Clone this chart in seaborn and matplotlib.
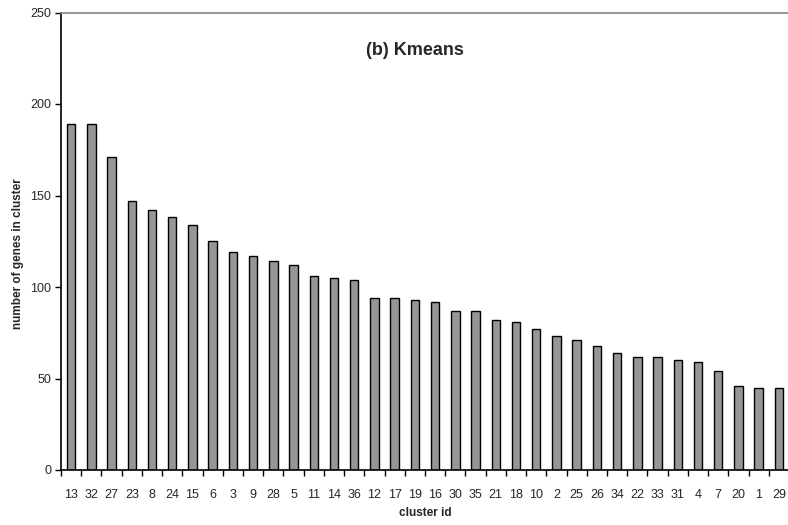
import matplotlib
matplotlib.use("Agg")
import matplotlib.pyplot as plt
import seaborn as sns
import pandas as pd
import numpy as np

cluster_ids = ["13", "32", "27", "23", "8", "24", "15", "6", "3", "9", "28", "5",
               "11", "14", "36", "12", "17", "19", "16", "30", "35", "21", "18", "10",
               "2", "25", "26", "34", "22", "33", "31", "4", "7", "20", "1", "29"]
gene_counts = [189, 189, 171, 147, 142, 138, 134, 125, 119, 117, 114, 112,
               106, 105, 104, 94, 94, 93, 92, 87, 87, 82, 81, 77,
               73, 71, 68, 64, 62, 62, 60, 59, 54, 46, 45, 45]
y_ticks = [0, 50, 100, 150, 200, 250]

sns.set_style("white")
plt.rcParams['font.family'] = ['Liberation Sans', 'DejaVu Sans']

df = pd.DataFrame({"cluster": cluster_ids, "count": gene_counts})

fig = plt.figure(figsize=(7.88, 5.25), dpi=100)
ax = fig.add_axes([61/788, 55/525, 728/788, 457.5/525])

sns.barplot(data=df, x="cluster", y="count", order=cluster_ids, color="#969696",
            saturation=1, width=0.42, edgecolor="black", linewidth=1.0, ax=ax)

ax.set_xlim(-0.5, len(cluster_ids) - 0.5)
ax.set_ylim(0, 250)
ax.set_yticks(y_ticks)
ax.set_yticklabels([str(t) for t in y_ticks], fontsize=9)
ax.set_xticks(np.arange(len(cluster_ids)))
ax.set_xticklabels(cluster_ids, fontsize=9)
ax.set_xticks(np.arange(len(cluster_ids) + 1) - 0.5, minor=True)
ax.tick_params(axis='x', which='major', length=0, pad=14)
ax.tick_params(axis='x', which='minor', length=4, width=1, direction='out', color='black', bottom=True)
ax.tick_params(axis='y', which='major', length=4, width=1, direction='out', color='black', left=True, pad=3)

ax.spines['left'].set_color('black')
ax.spines['left'].set_linewidth(1.2)
ax.spines['bottom'].set_color('black')
ax.spines['bottom'].set_linewidth(1.2)
ax.spines['top'].set_color('#888888')
ax.spines['top'].set_linewidth(1.2)
ax.spines['right'].set_visible(False)

ax.set_xlabel("cluster id", fontsize=8.5, fontweight='bold')
ax.set_ylabel("number of genes in cluster", fontsize=8.5, fontweight='bold')
ax.xaxis.set_label_coords(0.5, -(513 - 470) / 457.5)
ax.yaxis.set_label_coords((18 - 61) / 728, (470 - 254) / 457.5)
ax.xaxis.label.set_va('center')
ax.yaxis.label.set_va('center')

ax.text(0.486, 0.918, "(b) Kmeans", transform=ax.transAxes, ha='center', va='center',
        fontsize=13, fontweight='bold')

fig.savefig("out.png", dpi=100)
